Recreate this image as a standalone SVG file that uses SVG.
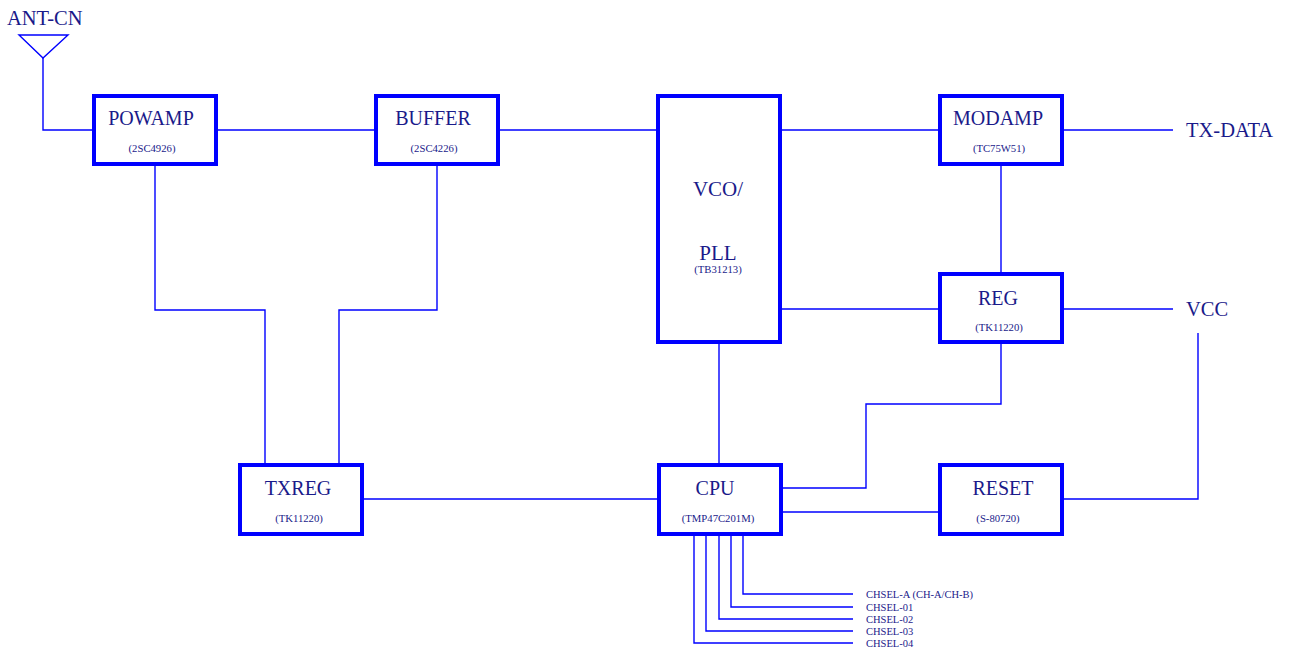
<svg xmlns="http://www.w3.org/2000/svg" width="1290" height="651" viewBox="0 0 1290 651">
<style>
.box{fill:#fff;stroke:#0000ff;stroke-width:4}
.ln{fill:none;stroke:#0000ff;stroke-width:1.4}
text{font-family:"Liberation Serif","Times New Roman",serif;fill:#1a1a8a}
.t{font-size:20px;text-anchor:middle}
.s{font-size:10.7px;text-anchor:middle}
.lab{font-size:20.5px}
.ch{font-size:10.5px}
</style>
<rect width="1290" height="651" fill="#fff"/>
<g id="connectors">
<polygon class="ln" points="19,35 68,35 43,58"/>
<path class="ln" d="M43,58 V130 H92"/>
<path class="ln" d="M218,130 H374"/>
<path class="ln" d="M500,130 H656"/>
<path class="ln" d="M782,130 H938"/>
<path class="ln" d="M1064,130 H1173"/>
<path class="ln" d="M782,309 H938"/>
<path class="ln" d="M1064,309 H1173"/>
<path class="ln" d="M1001,166 V272"/>
<path class="ln" d="M1001,344 V404 H866 V488 H783"/>
<path class="ln" d="M719,344 V463"/>
<path class="ln" d="M783,512 H938"/>
<path class="ln" d="M1064,499 H1198 V333"/>
<path class="ln" d="M364,499 H657"/>
<path class="ln" d="M155,166 V310 H265 V463"/>
<path class="ln" d="M437,166 V310 H339 V463"/>
<path class="ln" d="M743,536 V594 H853"/>
<path class="ln" d="M731,536 V607 H853"/>
<path class="ln" d="M719,536 V619 H853"/>
<path class="ln" d="M706,536 V631 H853"/>
<path class="ln" d="M694,536 V643 H853"/>
</g>
<g id="ant">
<text class="lab" x="7" y="25">ANT-CN</text>
</g>
<g id="powamp">
<rect class="box" x="94" y="96" width="122" height="68"/>
<text class="t" x="151" y="125">POWAMP</text>
<text class="s" x="152" y="152">(2SC4926)</text>
</g>
<g id="buffer">
<rect class="box" x="376" y="96" width="122" height="68"/>
<text class="t" x="433" y="125">BUFFER</text>
<text class="s" x="434" y="152">(2SC4226)</text>
</g>
<g id="vco">
<rect class="box" x="658" y="96" width="122" height="246"/>
<text class="t" x="718" y="196" style="font-size:21px">VCO/</text>
<text class="t" x="718" y="260" style="font-size:21px">PLL</text>
<text class="s" x="718" y="273">(TB31213)</text>
</g>
<g id="modamp">
<rect class="box" x="940" y="96" width="122" height="68"/>
<text class="t" x="998" y="125">MODAMP</text>
<text class="s" x="999" y="152">(TC75W51)</text>
</g>
<g id="reg">
<rect class="box" x="940" y="274" width="122" height="68"/>
<text class="t" x="998" y="305">REG</text>
<text class="s" x="999" y="331">(TK11220)</text>
</g>
<g id="txreg">
<rect class="box" x="240" y="465" width="122" height="69"/>
<text class="t" x="298" y="495">TXREG</text>
<text class="s" x="299" y="522">(TK11220)</text>
</g>
<g id="cpu">
<rect class="box" x="659" y="465" width="122" height="69"/>
<text class="t" x="715" y="495">CPU</text>
<text class="s" x="718" y="522">(TMP47C201M)</text>
</g>
<g id="reset">
<rect class="box" x="940" y="465" width="122" height="69"/>
<text class="t" x="1003" y="495">RESET</text>
<text class="s" x="998" y="522">(S-80720)</text>
</g>
<g id="txdata"><text class="lab" x="1186" y="137">TX-DATA</text></g>
<g id="vcc"><text class="lab" x="1186" y="316">VCC</text></g>
<g id="chsel">
<text class="ch" x="866" y="598">CHSEL-A (CH-A/CH-B)</text>
<text class="ch" x="866" y="611">CHSEL-01</text>
<text class="ch" x="866" y="623">CHSEL-02</text>
<text class="ch" x="866" y="635">CHSEL-03</text>
<text class="ch" x="866" y="647">CHSEL-04</text>
</g>
</svg>
